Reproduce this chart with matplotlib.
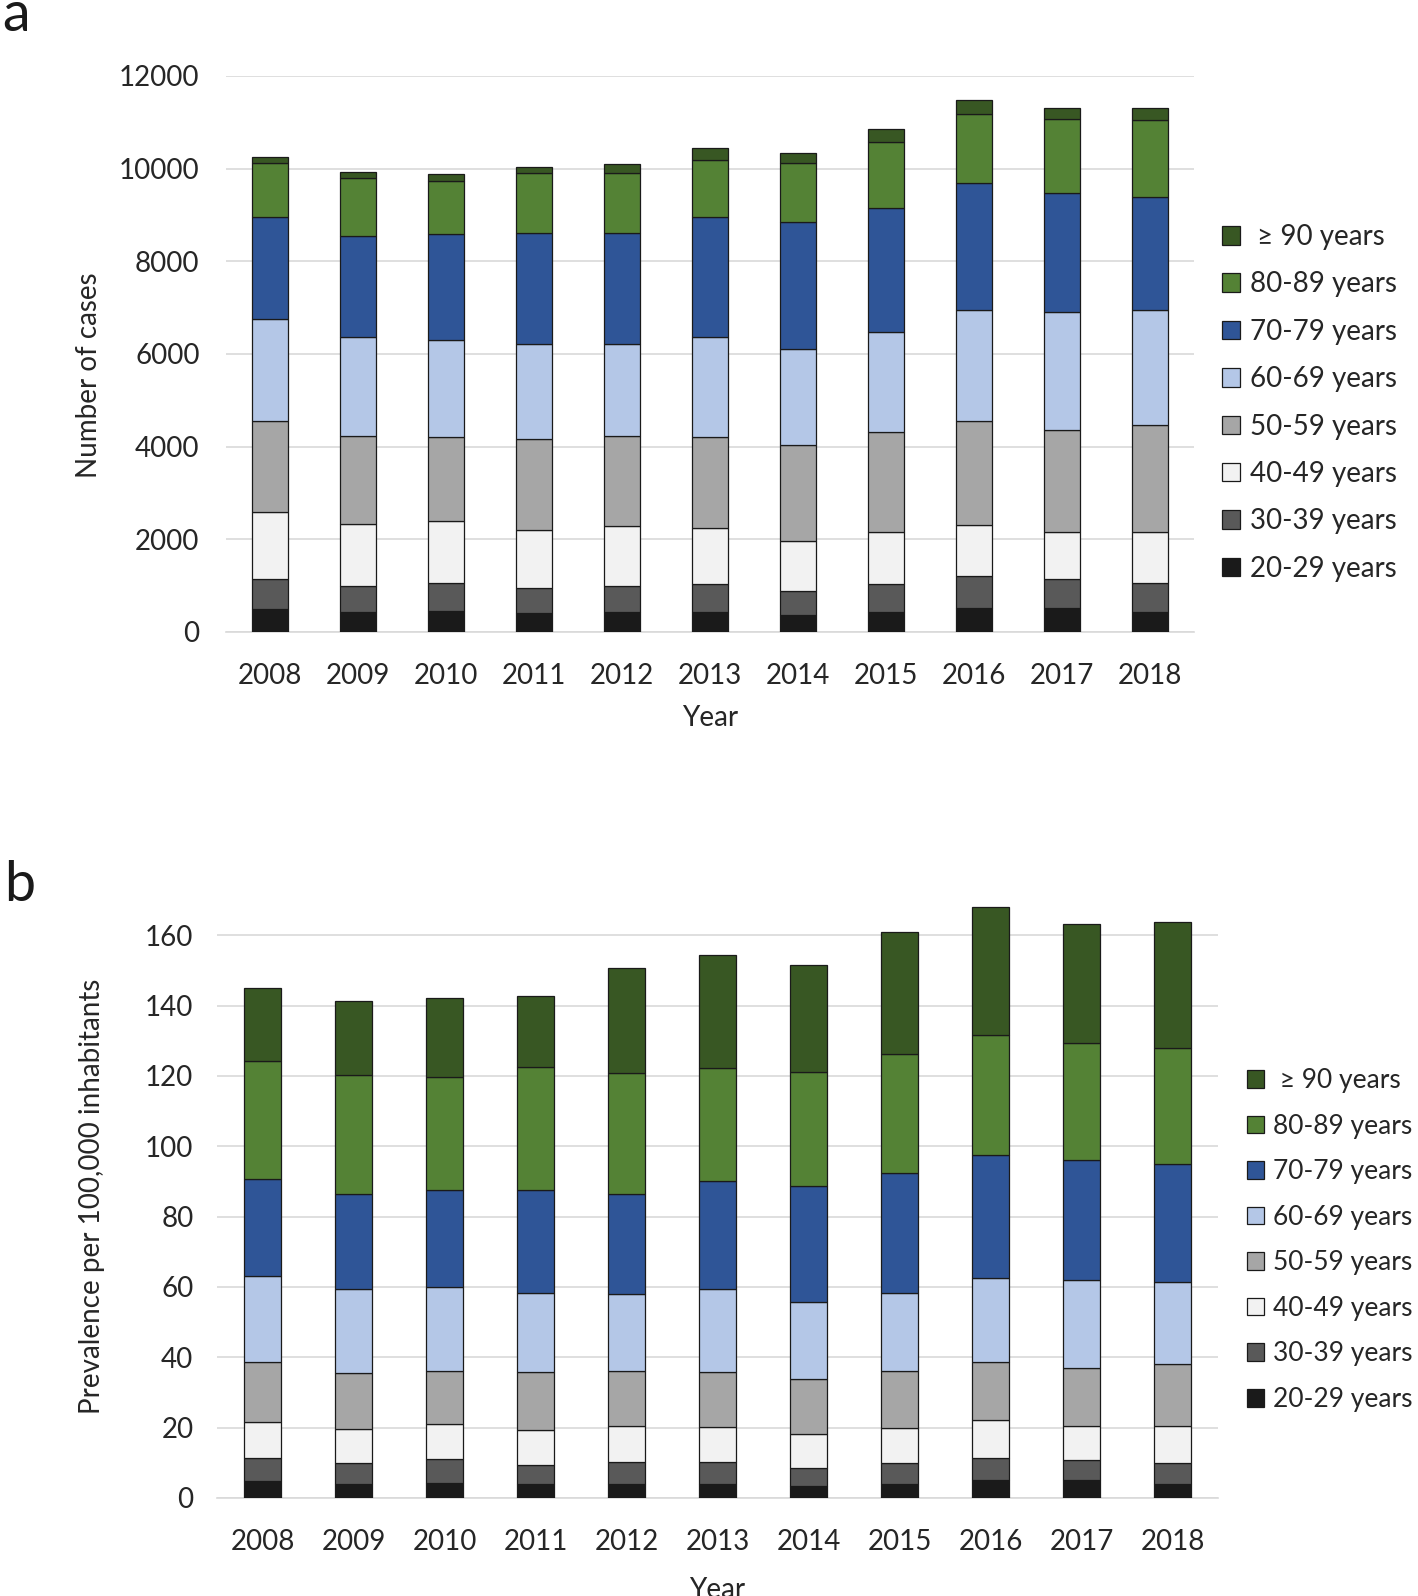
import matplotlib
matplotlib.use("Agg")
import matplotlib.pyplot as plt
import numpy as np

years = ["2008", "2009", "2010", "2011", "2012", "2013", "2014", "2015", "2016", "2017", "2018"]
groups = ["20-29 years", "30-39 years", "40-49 years", "50-59 years",
          "60-69 years", "70-79 years", "80-89 years", " \u2265 90 years"]
colors = ["#1a1a1a", "#595959", "#f2f2f2", "#a6a6a6",
          "#b4c7e7", "#2f5597", "#548235", "#385723"]

# Panel a: cumulative tops (number of cases)
cum_a_20 = [490, 430, 450, 410, 430, 430, 370, 430, 520, 520, 430]
cum_a_30 = [1150, 990, 1050, 940, 990, 1030, 880, 1030, 1210, 1150, 1050]
cum_a_40 = [2590, 2340, 2400, 2200, 2280, 2240, 1970, 2160, 2310, 2160, 2160]
cum_a_50 = [4560, 4220, 4210, 4160, 4240, 4210, 4040, 4310, 4550, 4370, 4470]
cum_a_60 = [6760, 6360, 6310, 6210, 6210, 6360, 6110, 6470, 6940, 6900, 6940]
cum_a_70 = [8960, 8540, 8590, 8610, 8610, 8960, 8840, 9150, 9680, 9480, 9390]
cum_a_80 = [10120, 9790, 9730, 9900, 9900, 10190, 10120, 10570, 11170, 11070, 11040]
cum_a_90 = [10260, 9930, 9880, 10040, 10100, 10450, 10340, 10850, 11480, 11310, 11310]

# Panel b: cumulative tops (prevalence per 100,000)
cum_b_20 = [4.9, 4.1, 4.4, 4.1, 4.1, 4.1, 3.5, 4.1, 5.1, 5.1, 4.1]
cum_b_30 = [11.4, 9.9, 11.0, 9.5, 10.2, 10.2, 8.5, 9.9, 11.4, 10.8, 9.9]
cum_b_40 = [21.7, 19.7, 20.9, 19.4, 20.6, 20.3, 18.2, 20.0, 22.1, 20.6, 20.6]
cum_b_50 = [38.7, 35.6, 36.2, 35.9, 36.2, 35.9, 33.9, 36.2, 38.7, 36.9, 38.0]
cum_b_60 = [63.2, 59.4, 60.1, 58.4, 58.1, 59.4, 55.7, 58.3, 62.5, 61.9, 61.5]
cum_b_70 = [90.8, 86.5, 87.7, 87.7, 86.5, 90.2, 88.8, 92.3, 97.4, 96.0, 94.9]
cum_b_80 = [124.2, 120.2, 119.6, 122.4, 120.8, 122.3, 121.2, 126.2, 131.6, 129.3, 128.0]
cum_b_90 = [145.1, 141.2, 142.1, 142.7, 150.7, 154.5, 151.4, 161.0, 168.1, 163.3, 163.7]

cum_a = np.array([cum_a_20, cum_a_30, cum_a_40, cum_a_50, cum_a_60, cum_a_70, cum_a_80, cum_a_90])
cum_b = np.array([cum_b_20, cum_b_30, cum_b_40, cum_b_50, cum_b_60, cum_b_70, cum_b_80, cum_b_90])

FONT = ["Lato", "DejaVu Sans"]
plt.rcParams["font.family"] = FONT
TXT = "#262626"

W, H = 1418, 1596
fig = plt.figure(figsize=(W / 100, H / 100), dpi=100)

def make_axes(l, r, t, b):
    return fig.add_axes([l / W, 1 - b / H, (r - l) / W, (b - t) / H])

AX_A = (226, 1194, 76, 632)
AX_B = (217, 1218, 900, 1498)
ax_a = make_axes(*AX_A)
ax_b = make_axes(*AX_B)

def draw(ax, box, cum, ylim, yticks, ylabel, ylab_px, xlab_py, ypad, xpad,
         leg_xy, leg_fs, leg_spacing):
    l, r, t, b = box
    x = np.arange(len(years))
    handles = []
    for i in range(len(groups)):
        bottom = cum[i - 1] if i > 0 else np.zeros(len(years))
        h = ax.bar(x, cum[i] - bottom, bottom=bottom, width=0.41,
                   color=colors[i], edgecolor="#1a1a1a", linewidth=0.9,
                   label=groups[i], zorder=3)
        handles.append(h)
    ax.set_xlim(-0.5, len(years) - 0.5)
    ax.set_ylim(*ylim)
    ax.set_yticks(yticks)
    ax.set_xticks(x)
    ax.set_xticklabels(years)
    ax.yaxis.grid(True, color="#d9d9d9", linewidth=1.2, zorder=0)
    ax.set_axisbelow(True)
    for s in ["top", "right", "left"]:
        ax.spines[s].set_visible(False)
    ax.spines["bottom"].set_color("#d9d9d9")
    ax.spines["bottom"].set_linewidth(1.2)
    ax.tick_params(axis="both", length=0, labelsize=20, colors=TXT)
    ax.tick_params(axis="y", pad=ypad)
    ax.tick_params(axis="x", pad=xpad)
    ax.set_ylabel(ylabel, fontsize=20, color=TXT)
    ax.yaxis.set_label_coords((ylab_px[0] - l) / (r - l), (b - ylab_px[1]) / (b - t))
    ax.set_xlabel("Year", fontsize=20, color=TXT)
    ax.xaxis.set_label_coords(0.5, (b - xlab_py) / (b - t))
    leg = ax.legend(handles[::-1], groups[::-1], loc="upper left",
                    bbox_to_anchor=(leg_xy[0] / W, 1 - leg_xy[1] / H),
                    bbox_transform=fig.transFigure, frameon=False,
                    fontsize=leg_fs, handlelength=0.65, handleheight=0.65,
                    handletextpad=0.35, labelspacing=leg_spacing,
                    borderpad=0, borderaxespad=0)
    for tx in leg.get_texts():
        tx.set_color(TXT)

draw(ax_a, AX_A, cum_a, (0, 12000), np.arange(0, 12001, 2000), "Number of cases",
     (102, 375), 705, 19, 22, (1222, 224), 20, 0.77)
draw(ax_b, AX_B, cum_b, (0, 170), np.arange(0, 161, 20), "Prevalence per 100,000 inhabitants",
     (105, 1196), 1577, 17, 22, (1247, 1068), 19, 0.78)

fig.text(2 / W, 1 - 31 / H, "a", fontsize=40, color="#1a1a1a", va="baseline", ha="left")
fig.text(4 / W, 1 - 901 / H, "b", fontsize=40, color="#1a1a1a", va="baseline", ha="left")

fig.savefig("out.png", dpi=100, facecolor="white")
